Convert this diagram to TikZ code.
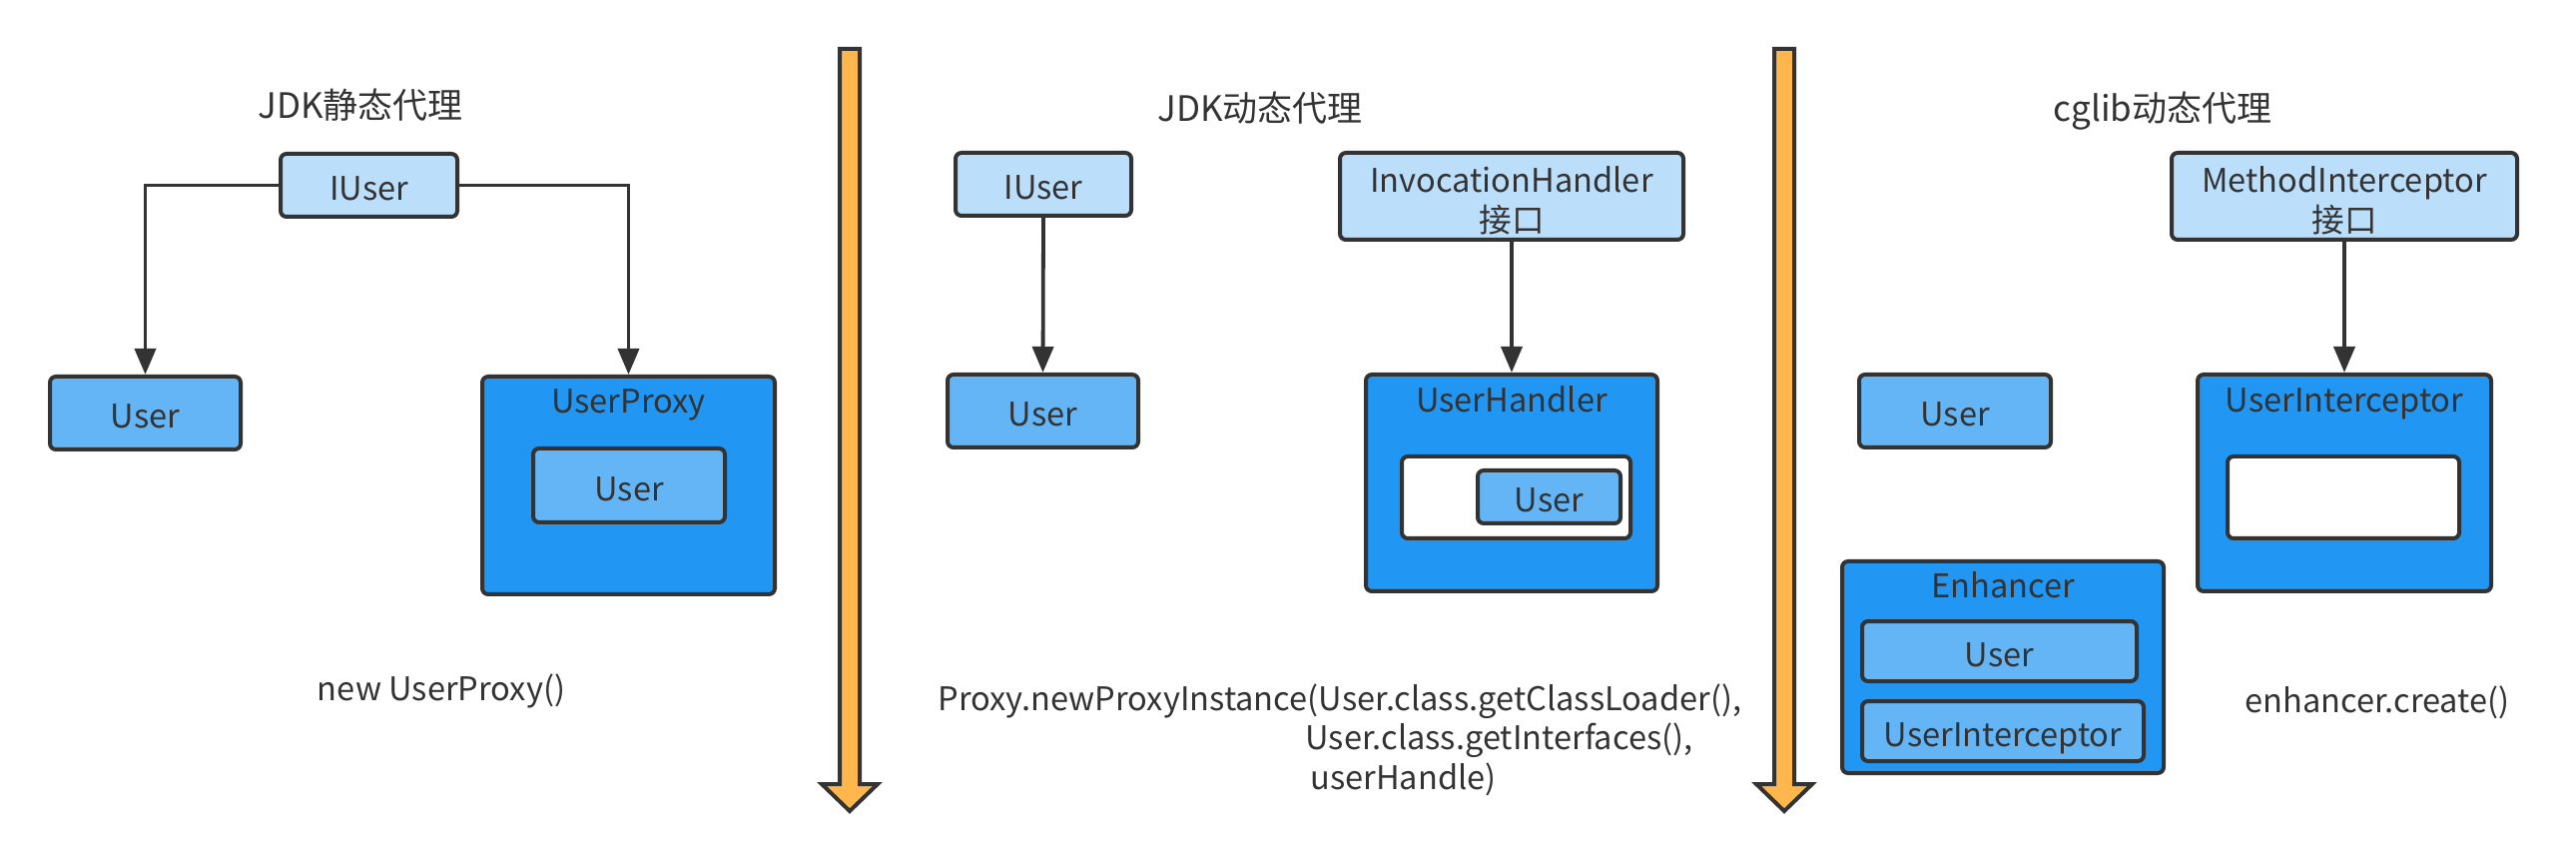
\documentclass[tikz,border=0pt]{standalone}
\usepackage{fontspec}
\setmainfont{Noto Sans CJK SC}
\usetikzlibrary{arrows.meta}
\definecolor{lb}{HTML}{BBDEFB}
\definecolor{mb}{HTML}{64B5F6}
\definecolor{db}{HTML}{2196F3}
\definecolor{ln}{HTML}{333333}
\definecolor{og}{HTML}{FFB74D}
\begin{document}
\begin{tikzpicture}[x=0.5pt,y=-0.5pt,
  every node/.style={text=ln, font=\fontsize{16.3}{20}\selectfont},
  box/.style={draw=ln, line width=2pt, rounded corners=3pt, inner sep=0pt, text height=15.5pt, text depth=0pt},
  light/.style={box, fill=lb},
  mid/.style={box, fill=mb},
  dark/.style={box, fill=db},
  blank/.style={box, fill=white},
  sz/.style 2 args={minimum width=#1*0.5pt, minimum height=#2*0.5pt},
  txt/.style={anchor=base, inner sep=0pt},
  ltxt/.style={anchor=base west, inner sep=0pt},
  ttl/.style={anchor=base, inner sep=0pt, font=\fontsize{17.5}{20}\selectfont},
  conn/.style={draw=ln, line width=1.9pt, -{Triangle[length=13pt,width=10.5pt]}},
  bigarrow/.style={draw=ln, fill=og, line width=2pt, line join=miter}
]
\useasboundingbox (0,0) rectangle (2580,860);

% ---------- JDK static proxy ----------
\node[ttl] (t1) at (361,119) {JDK静态代理};
\node[light, sz={177}{63}] (iu1) at (369.5,185.5) {IUser};
\node[mid, sz={191}{73}] (u1) at (145.5,413.5) {User};
\node[dark, sz={293}{218}] (up1) at (629.5,486) {};
\node[txt] (up1t) at (629.5,414) {UserProxy};
\node[mid, sz={192}{74}] (u1in) at (630,486) {User};
\node[txt] (c1) at (442,701) {new UserProxy()};
\draw[conn] (iu1.west) -| (u1.north);
\draw[conn] (iu1.east) -| (up1.north);

% ---------- separator 1 ----------
\path[bigarrow] (841,49) -- (861,49) -- (861,785) -- (879,785) -- (851,812)
  -- (823,785) -- (841,785) -- cycle;

% ---------- JDK dynamic proxy ----------
\node[ttl] (t2) at (1262,122) {JDK动态代理};
\node[light, sz={176}{63}] (iu2) at (1045,184.5) {IUser};
\node[mid, sz={191}{73}] (u2) at (1044.5,411.5) {User};
\node[light, sz={344}{87}] (ih) at (1514,196.5) {};
\node[txt] (iht1) at (1514,193) {InvocationHandler};
\node[txt] (iht2) at (1514,233) {接口};
\node[dark, sz={292}{217}] (uh) at (1514,483.5) {};
\node[txt] (uht) at (1514,413) {UserHandler};
\node[blank, sz={229}{82}] (uhw) at (1518.5,498) {};
\node[mid, sz={143}{53}] (u3) at (1551.5,497.5) {User};
\node[ltxt] (p1) at (939,711) {Proxy.newProxyInstance(User.class.getClassLoader(),};
\node[ltxt] (p2) at (1307,750) {User.class.getInterfaces(),};
\node[ltxt] (p3) at (1312,790) {userHandle)};
\draw[conn] (iu2.south) -- (u2.north);
\draw[conn] (ih.south) -- (uh.north);

% ---------- separator 2 ----------
\path[bigarrow] (1777,49) -- (1797,49) -- (1797,785) -- (1815,785) -- (1787,812)
  -- (1759,785) -- (1777,785) -- cycle;

% ---------- cglib dynamic proxy ----------
\node[ttl] (t3) at (2166,122) {cglib动态代理};
\node[light, sz={346}{87}] (mi) at (2348,196.5) {};
\node[txt] (mit1) at (2348,193) {MethodInterceptor};
\node[txt] (mit2) at (2348,233) {接口};
\node[mid, sz={192}{73}] (u4) at (1958,411.5) {User};
\node[dark, sz={294}{217}] (ui) at (2348,483.5) {};
\node[txt] (uit) at (2348,413) {UserInterceptor};
\node[blank, sz={232}{82}] (uiw) at (2347,498) {};
\node[dark, sz={322}{212}] (enh) at (2006,668) {};
\node[txt] (enht) at (2006,598) {Enhancer};
\node[mid, sz={275}{60}] (u5) at (2002.5,652) {User};
\node[mid, sz={282}{60}] (ui2) at (2006,732) {UserInterceptor};
\node[txt] (c3) at (2381,713) {enhancer.create()};
\draw[conn] (mi.south) -- (ui.north);
\end{tikzpicture}
\end{document}
